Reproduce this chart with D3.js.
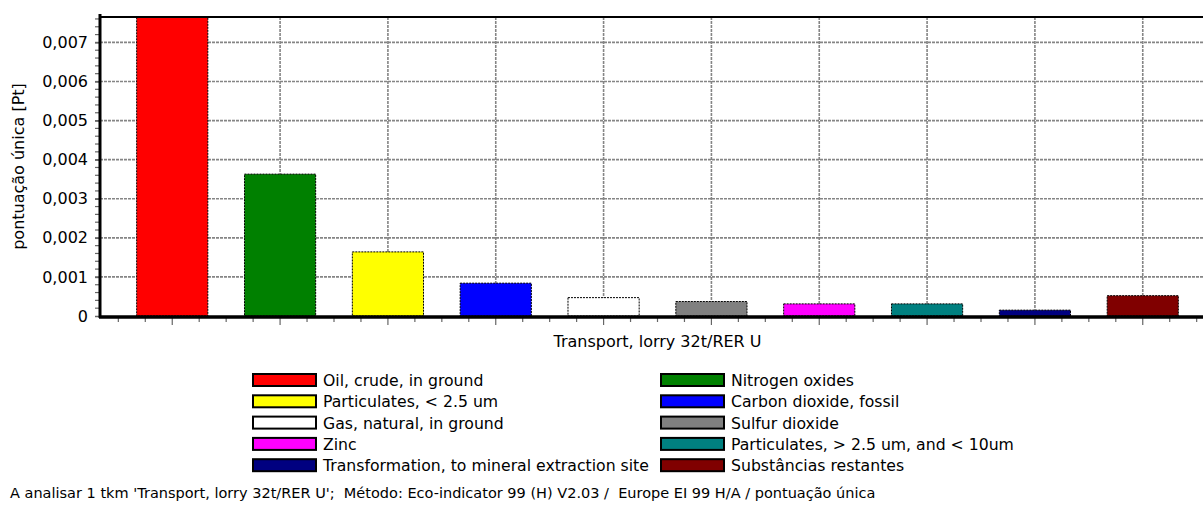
<!DOCTYPE html>
<html>
<head>
<meta charset="utf-8">
<script src="https://cdn.jsdelivr.net/npm/d3@7"></script>
<style>
	body { margin: 0; background: #fff; }
	svg text { font-family: "DejaVu Sans", Verdana, sans-serif; fill: #000; white-space: pre; }
</style>
</head>
<body>
<div id="chart"></div>
<script>
// substances, in plotting order
var substances = ["Oil, crude, in ground", "Nitrogen oxides", "Particulates, < 2.5 um", "Carbon dioxide, fossil",
	"Gas, natural, in ground", "Sulfur dioxide", "Zinc", "Particulates, > 2.5 um, and < 10um",
	"Transformation, to mineral extraction site", "Substâncias restantes"];
var scores = [0.00765, 0.00363, 0.00164, 0.00084, 0.00047, 0.00037, 0.00031, 0.00031, 0.00015, 0.00052];
var colors = ["#ff0000", "#008000", "#ffff00", "#0000ff", "#ffffff", "#808080", "#ff00ff", "#008080", "#000080", "#800000"];
var yTicks = [0, 0.001, 0.002, 0.003, 0.004, 0.005, 0.006, 0.007];
var xLabel = "Transport, lorry 32t/RER U";
var yLabel = "pontuação única [Pt]";
var footer = "A analisar 1 tkm 'Transport, lorry 32t/RER U';  Método: Eco-indicator 99 (H) V2.03 /  Europe EI 99 H/A / pontuação única";

var W = 1203, H = 506;
var pLeft = 100, pTop = 17, pBottom = 316, pRight = 1215;
var fontSize = 16;

var svg = d3.select("#chart").append("svg")
	.attr("width", W).attr("height", H);

var x = d3.scaleBand()
	.domain(substances)
	.range([pLeft, pRight])
	.padding(0.34);

var y = d3.scaleLinear()
	.domain([0, 0.00765])
	.range([pBottom, pTop]);

var fmt = function(v){ return v == 0 ? "0" : d3.format(".3f")(v).replace(".", ","); };

var step = x.step();

// grid
var grid = svg.append("g").attr("class", "grid")
	.attr("stroke", "#858585").attr("stroke-width", 1.6).attr("stroke-dasharray", "3,1");
grid.selectAll(".hgrid").data(yTicks.slice(1)).enter().append("line")
	.attr("x1", pLeft).attr("x2", W)
	.attr("y1", function(d){ return y(d); }).attr("y2", function(d){ return y(d); });
grid.selectAll(".vgrid").data(substances).enter().append("line")
	.attr("x1", function(d){ return x(d) + x.bandwidth()/2; })
	.attr("x2", function(d){ return x(d) + x.bandwidth()/2; })
	.attr("y1", pTop).attr("y2", pBottom);

// bars
svg.append("g").selectAll("rect").data(scores).enter().append("rect")
	.attr("x", function(d, i){ return x(substances[i]); })
	.attr("width", x.bandwidth())
	.attr("y", function(d){ return y(d); })
	.attr("height", function(d){ return pBottom - y(d); })
	.attr("fill", function(d, i){ return colors[i]; })
	.attr("stroke", "#000").attr("stroke-width", 1).attr("stroke-dasharray", "2,1");

// top border
svg.append("line")
	.attr("x1", pLeft).attr("x2", W).attr("y1", pTop).attr("y2", pTop)
	.attr("stroke", "#000").attr("stroke-width", 2);

// y axis with minor ticks
var yAxis = d3.axisLeft(y).tickValues(yTicks).tickFormat(fmt).tickSize(5).tickPadding(7);
var gy = svg.append("g").attr("transform", "translate(" + pLeft + ",0)").call(yAxis);
gy.select(".domain").remove();
gy.selectAll(".tick line").attr("stroke", "#666").attr("stroke-width", 1.5);
gy.selectAll(".tick text").style("font-size", fontSize + "px").style("font-family", "DejaVu Sans, Verdana, sans-serif");
gy.selectAll(".minor").data(d3.range(1, 39)).enter().append("line")
	.attr("x1", -5).attr("x2", 0)
	.attr("y1", function(d){ return y(d * 0.0002); }).attr("y2", function(d){ return y(d * 0.0002); })
	.attr("stroke", "#666").attr("stroke-width", 1.2);

// x axis minor / major ticks
var xt = [];
for (var k = -2; k < substances.length * 4 + 2; k++) {
	var px = x(substances[0]) + x.bandwidth()/2 + k * step / 4;
	if (px > pLeft + 5 && px < W) xt.push({ px: px, major: k % 4 == 0 });
}
svg.append("g").selectAll("line").data(xt).enter().append("line")
	.attr("x1", function(d){ return d.px; }).attr("x2", function(d){ return d.px; })
	.attr("y1", pBottom).attr("y2", function(d){ return pBottom + (d.major ? 9 : 6); })
	.attr("stroke", "#666").attr("stroke-width", 1.2);

// axis lines
svg.append("line")
	.attr("x1", pLeft).attr("x2", pLeft).attr("y1", pTop - 3).attr("y2", pBottom + 2)
	.attr("stroke", "#000").attr("stroke-width", 3);
svg.append("line")
	.attr("x1", pLeft - 1).attr("x2", W).attr("y1", pBottom + 1).attr("y2", pBottom + 1)
	.attr("stroke", "#000").attr("stroke-width", 3.5);

// axis titles
svg.append("text")
	.attr("x", (pLeft + pRight) / 2).attr("y", pBottom + 31)
	.attr("text-anchor", "middle").style("font-size", fontSize + "px")
	.text(xLabel);
svg.append("text")
	.attr("transform", "translate(24," + ((pTop + pBottom) / 2) + ") rotate(-90)")
	.attr("text-anchor", "middle").style("font-size", fontSize + "px")
	.text(yLabel);

// legend, two columns
var legend = svg.append("g").selectAll("g").data(substances).enter().append("g")
	.attr("transform", function(d, i){
		return "translate(" + (i % 2 == 0 ? 253 : 661) + "," + (374 + Math.floor(i / 2) * 21.3) + ")";
	});
legend.append("rect")
	.attr("width", 63).attr("height", 12)
	.attr("fill", function(d, i){ return colors[i]; })
	.attr("stroke", "#000").attr("stroke-width", 2);
legend.append("text")
	.attr("x", 70).attr("y", 12)
	.style("font-size", "15.7px")
	.text(function(d){ return d; });

// footer
svg.append("text")
	.attr("x", 10).attr("y", 498)
	.style("font-size", "14.5px")
	.text(footer);
</script>
</body>
</html>
